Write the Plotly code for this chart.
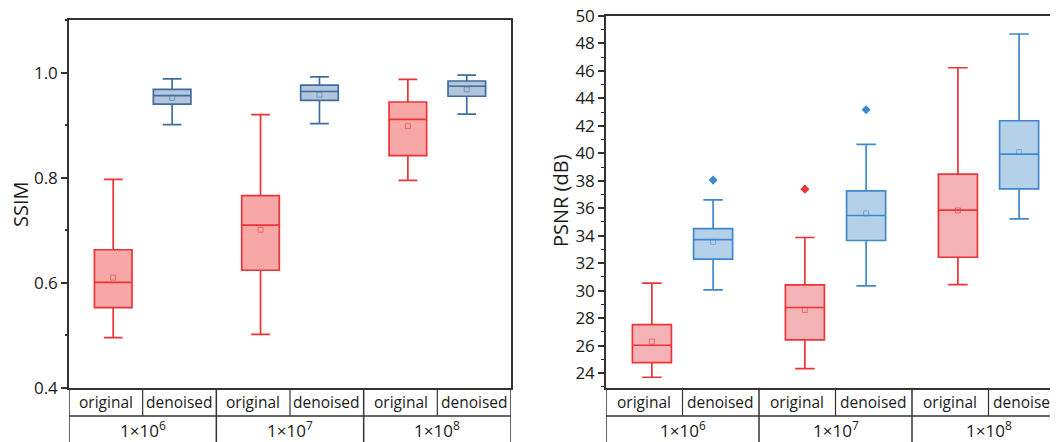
import plotly.graph_objects as go

# ---------------- data ----------------
groups = ["1×10<sup>6</sup>", "1×10<sup>7</sup>", "1×10<sup>8</sup>"]
sub_labels = ["original", "denoised"]

# SSIM (left panel)
ssim_orig_lower = [0.496, 0.502, 0.795]
ssim_orig_q1 = [0.553, 0.624, 0.842]
ssim_orig_median = [0.601, 0.710, 0.911]
ssim_orig_q3 = [0.663, 0.766, 0.944]
ssim_orig_upper = [0.797, 0.920, 0.987]
ssim_orig_mean = [0.610, 0.701, 0.898]

ssim_den_lower = [0.901, 0.903, 0.921]
ssim_den_q1 = [0.940, 0.947, 0.955]
ssim_den_median = [0.956, 0.964, 0.974]
ssim_den_q3 = [0.968, 0.976, 0.984]
ssim_den_upper = [0.988, 0.992, 0.995]
ssim_den_mean = [0.952, 0.958, 0.968]

# PSNR (right panel)
psnr_orig_lower = [23.69, 24.32, 30.44]
psnr_orig_q1 = [24.76, 26.41, 32.43]
psnr_orig_median = [26.02, 28.77, 35.86]
psnr_orig_q3 = [27.53, 30.42, 38.48]
psnr_orig_upper = [30.54, 33.87, 46.23]
psnr_orig_mean = [26.29, 28.59, 35.84]
psnr_orig_outlier_group = [1]
psnr_orig_outlier = [37.39]

psnr_den_lower = [30.05, 30.34, 35.23]
psnr_den_q1 = [32.29, 33.65, 37.41]
psnr_den_median = [33.72, 35.47, 39.94]
psnr_den_q3 = [34.52, 37.27, 42.37]
psnr_den_upper = [36.61, 40.65, 48.69]
psnr_den_mean = [33.55, 35.62, 40.09]
psnr_den_outlier_group = [0, 1]
psnr_den_outlier = [38.05, 43.17]

# ---------------- style ----------------
PAGE_OFF = 8            # default page body margin
W, H = 1058 - PAGE_OFF, 442 - PAGE_OFF
FONT = "Open Sans"
AX = "#333333"
TXT = "#1a1a1a"
RED = "#EE3338"
RED_FILL_L = "rgba(244,120,120,0.65)"
RED_FILL_R = "rgba(236,130,136,0.62)"
BLUE_L = "#3F6E9E"
BLUE_FILL_L = "rgba(120,150,190,0.55)"
BLUE_R = "#3F88CC"
BLUE_FILL_R = "rgba(120,170,215,0.55)"

def px_x(p):
    return (p - PAGE_OFF) / W

def px_y(p):
    return (H - (p - PAGE_OFF)) / H

L_X0, L_X1, L_Y0, L_Y1 = 69, 511, 388, 20
R_X0, R_X1, R_Y0, R_Y1 = 606, 1058, 387.7, 16
cell_w_r = 76.5

OFF = 0.1
BOXW = 0.51

fig = go.Figure()

def add_boxes(xa, ya, pos, lower, q1, med, q3, upper, mean, line_c, fill_c, width):
    for i in range(len(pos)):
        fig.add_trace(go.Box(
            x=[pos[i]], lowerfence=[lower[i]], q1=[q1[i]], median=[med[i]],
            q3=[q3[i]], upperfence=[upper[i]],
            width=width, whiskerwidth=0.5, boxpoints=False,
            line=dict(color=line_c, width=1.7), fillcolor=fill_c,
            xaxis=xa, yaxis=ya, showlegend=False, hoverinfo="skip"))
    fig.add_trace(go.Scatter(
        x=pos, y=mean, mode="markers", xaxis=xa, yaxis=ya, showlegend=False,
        marker=dict(symbol="square-open", size=5, color=line_c, opacity=0.55,
                    line=dict(width=1)), hoverinfo="skip"))

orig_pos = [2 * g + 0.5 + OFF for g in range(3)]
den_pos = [2 * g + 1.5 - OFF for g in range(3)]

add_boxes("x", "y", orig_pos, ssim_orig_lower, ssim_orig_q1, ssim_orig_median,
          ssim_orig_q3, ssim_orig_upper, ssim_orig_mean, RED, RED_FILL_L, BOXW)
add_boxes("x", "y", den_pos, ssim_den_lower, ssim_den_q1, ssim_den_median,
          ssim_den_q3, ssim_den_upper, ssim_den_mean, BLUE_L, BLUE_FILL_L, BOXW)

add_boxes("x2", "y2", orig_pos, psnr_orig_lower, psnr_orig_q1, psnr_orig_median,
          psnr_orig_q3, psnr_orig_upper, psnr_orig_mean, RED, RED_FILL_R, BOXW)
add_boxes("x2", "y2", den_pos, psnr_den_lower, psnr_den_q1, psnr_den_median,
          psnr_den_q3, psnr_den_upper, psnr_den_mean, BLUE_R, BLUE_FILL_R, BOXW)

fig.add_trace(go.Scatter(
    x=[orig_pos[g] for g in psnr_orig_outlier_group], y=psnr_orig_outlier,
    mode="markers", xaxis="x2", yaxis="y2", showlegend=False,
    marker=dict(symbol="diamond", size=7, color=RED), hoverinfo="skip"))
fig.add_trace(go.Scatter(
    x=[den_pos[g] for g in psnr_den_outlier_group], y=psnr_den_outlier,
    mode="markers", xaxis="x2", yaxis="y2", showlegend=False,
    marker=dict(symbol="diamond", size=7, color=BLUE_R), hoverinfo="skip"))

# ---------------- table below each panel ----------------
shapes = []
annotations = []
ROW1_Y = px_y(416)
for xa, yd0 in [("x", px_y(L_Y0)), ("x2", px_y(R_Y0))]:
    shapes.append(dict(type="line", xref=xa, yref="paper", x0=0, x1=6,
                       y0=ROW1_Y, y1=ROW1_Y, line=dict(color=AX, width=1.5)))
    for xv in [0, 2, 4, 6]:
        shapes.append(dict(type="line", xref=xa, yref="paper", x0=xv, x1=xv,
                           y0=-0.02, y1=yd0, line=dict(color=AX, width=1.5)))
    for xv in [1, 3, 5]:
        shapes.append(dict(type="line", xref=xa, yref="paper", x0=xv, x1=xv,
                           y0=ROW1_Y, y1=yd0, line=dict(color=AX, width=1.2)))
    for i in range(6):
        annotations.append(dict(xref=xa, yref="paper", x=i + 0.5, y=px_y(402),
                                text=sub_labels[i % 2], showarrow=False,
                                font=dict(family=FONT, size=15.5, color=TXT),
                                xanchor="center", yanchor="middle"))
    for g in range(3):
        annotations.append(dict(xref=xa, yref="paper", x=2 * g + 1, y=px_y(429),
                                text=groups[g], showarrow=False,
                                font=dict(family=FONT, size=17, color=TXT),
                                xanchor="center", yanchor="middle"))

annotations.append(dict(xref="paper", yref="paper", x=px_x(20), y=px_y(204),
                        text="SSIM", textangle=-90, showarrow=False,
                        font=dict(family=FONT, size=20, color=TXT),
                        xanchor="center", yanchor="middle"))
annotations.append(dict(xref="paper", yref="paper", x=px_x(560), y=px_y(201),
                        text="PSNR (dB)", textangle=-90, showarrow=False,
                        font=dict(family=FONT, size=20, color=TXT),
                        xanchor="center", yanchor="middle"))

tickfont = dict(family=FONT, size=17, color=TXT)

fig.update_layout(
    width=W, height=H, margin=dict(l=0, r=0, t=0, b=0),
    paper_bgcolor="white", plot_bgcolor="white",
    boxmode="overlay",
    shapes=shapes, annotations=annotations,
    xaxis=dict(domain=[px_x(L_X0), px_x(L_X1)], range=[0, 6], showticklabels=False,
               ticks="", showgrid=False, zeroline=False, showline=True, mirror=True,
               linecolor=AX, linewidth=1.5, anchor="y", automargin=False),
    yaxis=dict(domain=[px_y(L_Y0), px_y(L_Y1)], range=[0.4, 1.1],
               tickvals=[0.4, 0.6, 0.8, 1.0], tickformat=".1f",
               ticks="outside", ticklen=6, tickwidth=1.5, tickcolor=AX,
               minor=dict(dtick=0.1, tick0=0.4, ticks="outside", ticklen=2, tickwidth=1.5, tickcolor=AX),
               showgrid=False, zeroline=False, showline=True, mirror=True,
               linecolor=AX, linewidth=1.5, tickfont=tickfont, anchor="x", automargin=False,
               ticklabeloverflow="allow"),
    xaxis2=dict(domain=[px_x(R_X0), 1.0], range=[0, (R_X1 - R_X0) / cell_w_r],
                showticklabels=False, ticks="", showgrid=False, zeroline=False,
                showline=True, mirror=True, linecolor=AX, linewidth=1.5, anchor="y2",
                automargin=False),
    yaxis2=dict(domain=[px_y(R_Y0), px_y(R_Y1)], range=[22.93, 50],
                tick0=0, dtick=2, ticks="outside", ticklen=6, tickwidth=1.5, tickcolor=AX,
                minor=dict(dtick=1, tick0=0, ticks="outside", ticklen=3, tickwidth=1.2, tickcolor=AX),
                showgrid=False, zeroline=False, showline=True, mirror=False,
                linecolor=AX, linewidth=1.5, tickfont=tickfont, anchor="x2", automargin=False,
                ticklabeloverflow="allow"),
)

fig.write_html("out.html")
